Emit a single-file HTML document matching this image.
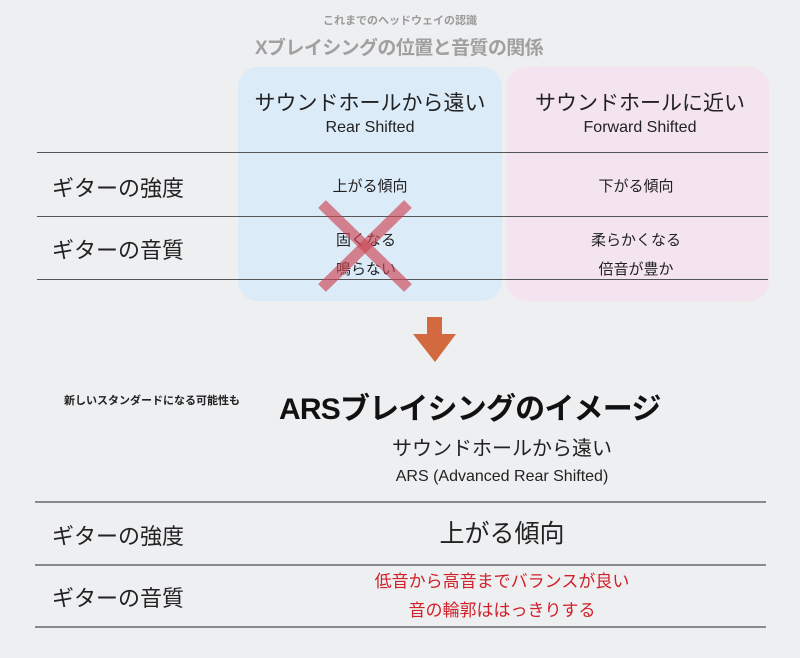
<!DOCTYPE html>
<html><head><meta charset="utf-8"><style>
body{margin:0;width:800px;height:658px;background:#eeeff1;position:relative;overflow:hidden;font-family:"Liberation Sans","Noto Sans CJK JP",sans-serif;color:#222}
.a{position:absolute;white-space:nowrap}
.c{transform:translateX(-50%);text-align:center}
.ln{position:absolute;height:1px;background:#555}
.ln2{position:absolute;height:2px;background:#8a8a8a}
</style></head><body>
<div class="a c" style="left:400px;top:12px;font-size:11px;font-weight:bold;color:#9a9a9a">これまでのヘッドウェイの認識</div>
<div class="a c" style="left:399px;top:33px;font-size:19px;font-weight:bold;color:#a0a0a0;letter-spacing:-0.6px">Xブレイシングの位置と音質の関係</div>
<div class="a" style="left:238px;top:67px;width:264px;height:234px;background:#dcebf8;border-radius:20px"></div>
<div class="a" style="left:506px;top:67px;width:263px;height:234px;background:#f3e4ef;border-radius:20px"></div>
<div class="a c" style="left:370px;top:87px;font-size:21px">サウンドホールから遠い</div>
<div class="a c" style="left:370px;top:119px;font-size:16px">Rear Shifted</div>
<div class="a c" style="left:640px;top:87px;font-size:21px">サウンドホールに近い</div>
<div class="a c" style="left:640px;top:119px;font-size:16px">Forward Shifted</div>
<div class="ln" style="left:37px;top:152px;width:731px"></div>
<div class="ln" style="left:37px;top:216px;width:731px"></div>
<div class="ln" style="left:37px;top:279px;width:731px"></div>
<div class="a" style="left:52px;top:171px;font-size:22px">ギターの強度</div>
<div class="a" style="left:52px;top:233px;font-size:22px">ギターの音質</div>
<div class="a c" style="left:370px;top:175px;font-size:15px">上がる傾向</div>
<div class="a c" style="left:636px;top:175px;font-size:15px">下がる傾向</div>
<div class="a c" style="left:366px;top:226px;font-size:15px;line-height:29px">固くなる<br>鳴らない</div>
<div class="a c" style="left:636px;top:226px;font-size:15px;line-height:29px">柔らかくなる<br>倍音が豊か</div>
<svg class="a" style="left:0;top:0" width="800" height="658">
<g stroke="rgba(205,70,85,0.65)" stroke-width="11"><line x1="322" y1="204" x2="408" y2="288"/><line x1="408" y1="204" x2="322" y2="288"/></g>
<path d="M427 317H442V334H456L435 362L413 334H427Z" fill="#d2693f"/>
</svg>
<div class="a" style="left:64px;top:392px;font-size:11px;font-weight:bold">新しいスタンダードになる可能性も</div>
<div class="a" style="left:279px;top:384px;font-size:30px;font-weight:bold;color:#111;letter-spacing:-0.8px">ARSブレイシングのイメージ</div>
<div class="a c" style="left:502px;top:432px;font-size:20px">サウンドホールから遠い</div>
<div class="a c" style="left:502px;top:468px;font-size:16px">ARS (Advanced Rear Shifted)</div>
<div class="ln2" style="left:35px;top:501px;width:731px"></div>
<div class="ln2" style="left:35px;top:564px;width:731px"></div>
<div class="ln2" style="left:35px;top:626px;width:731px"></div>
<div class="a" style="left:52px;top:519px;font-size:22px">ギターの強度</div>
<div class="a c" style="left:502px;top:514px;font-size:25px">上がる傾向</div>
<div class="a" style="left:52px;top:581px;font-size:22px">ギターの音質</div>
<div class="a c" style="left:502px;top:567px;font-size:17px;line-height:29px;color:#d0202a">低音から高音までバランスが良い<br>音の輪郭ははっきりする</div>
</body></html>
